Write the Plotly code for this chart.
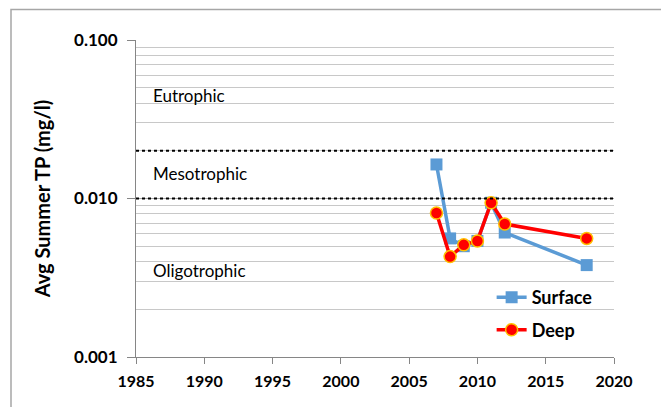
import math
import plotly.graph_objects as go

years = [2007, 2008, 2009, 2010, 2011, 2012, 2018]
surface = [0.0164, 0.0056, 0.0050, 0.0054, 0.0094, 0.0061, 0.0038]
deep = [0.0081, 0.0043, 0.0051, 0.0054, 0.0094, 0.0069, 0.0056]
thresholds = [0.02, 0.01]
zones = ["Eutrophic", "Mesotrophic", "Oligotrophic"]
zone_y = [0.0444, 0.0143, 0.00349]
x_ticks = [1985, 1990, 1995, 2000, 2005, 2010, 2015, 2020]
y_ticks = [0.001, 0.01, 0.1]
y_tick_labels = ["0.001", "0.010", "0.100"]

FONT = "Lato"

fig = go.Figure()
fig.add_trace(go.Scatter(
    x=years, y=surface, name="Surface", mode="lines+markers",
    line=dict(color="#5B9BD5", width=3.5),
    marker=dict(symbol="square", size=12, color="#5B9BD5"),
    legendgroup="s",
))
fig.add_trace(go.Scatter(
    x=years, y=deep, name="Deep", mode="lines+markers",
    line=dict(color="#FF0000", width=3.5),
    marker=dict(symbol="circle", size=12, color="#FF0000",
                line=dict(color="#FFC000", width=1.5)),
    legendgroup="d",
))

for t in thresholds:
    fig.add_shape(type="line", xref="paper", x0=0, x1=1, yref="y", y0=t, y1=t,
                  line=dict(color="black", width=2, dash="dot"))

for z, zy in zip(zones, zone_y):
    fig.add_annotation(x=1986.1, y=math.log10(zy), text=z, showarrow=False,
                       xanchor="left", yanchor="middle",
                       font=dict(family=FONT, size=17, color="black"))

# y axis title
fig.add_annotation(xref="paper", yref="paper", x=-0.197, y=0.5,
                   text="<b>Avg Summer TP (mg/l)</b>", textangle=-90,
                   showarrow=False, xanchor="center", yanchor="middle",
                   font=dict(family=FONT, size=20, color="black"))

# outer chart frame
fig.add_shape(type="rect", xref="paper", yref="paper",
              x0=-0.2615, x1=1.1025, y0=-0.3, y1=1.096,
              line=dict(color="#A6A6A6", width=1.5), layer="below")

fig.update_layout(
    width=661, height=399,
    margin=dict(l=128, r=55, t=32, b=50, autoexpand=False),
    paper_bgcolor="white", plot_bgcolor="white",
    font=dict(family=FONT, size=15, color="black"),
    showlegend=True,
    legend=dict(x=0.744, y=0.137, xanchor="left", yanchor="middle",
                bgcolor="rgba(255,255,255,0)",
                font=dict(family=FONT, size=18, color="black", weight="bold"),
                traceorder="grouped", tracegroupgap=6, itemwidth=30),
    xaxis=dict(range=[1985, 2020], tickvals=x_ticks, showgrid=False,
               showline=True, linecolor="#868686", linewidth=1,
               ticks="outside", ticklen=6, tickcolor="#868686",
               ticklabelstandoff=4,
               tickfont=dict(family=FONT, size=16, weight="bold"),
               zeroline=False, automargin=False),
    yaxis=dict(type="log", range=[-3, -1], tickvals=y_ticks, ticktext=y_tick_labels,
               showgrid=True, gridcolor="#A6A6A6", gridwidth=1,
               minor=dict(showgrid=True, gridcolor="#C8C8C8", gridwidth=1,
                          dtick="D1"),
               showline=True, linecolor="#868686", linewidth=1,
               ticks="outside", ticklen=8, tickcolor="#868686",
               ticklabelstandoff=6,
               tickfont=dict(family=FONT, size=17, weight="bold"),
               zeroline=False, automargin=False),
)

fig.write_html("out.html")
